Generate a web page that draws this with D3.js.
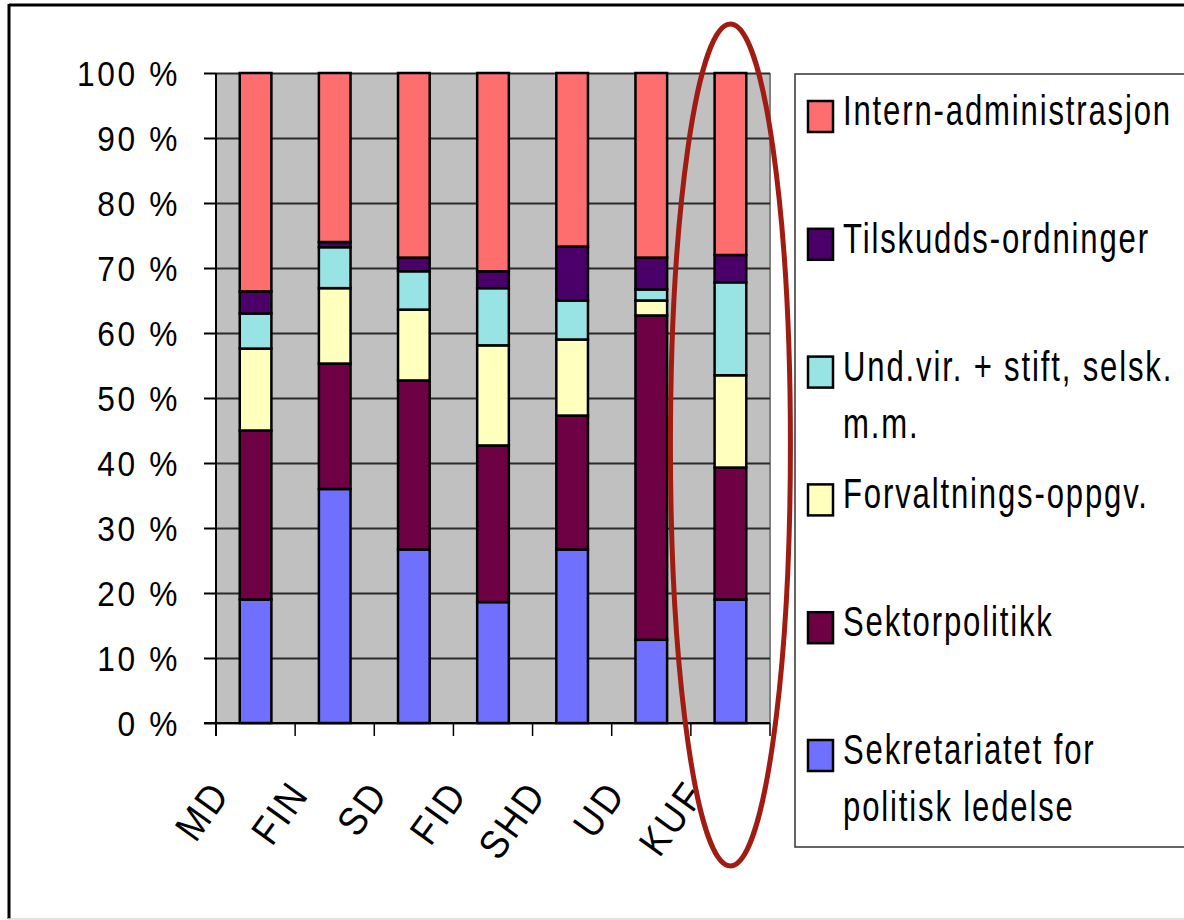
<!DOCTYPE html>
<html>
<head>
<meta charset="utf-8">
<script src="https://cdn.jsdelivr.net/npm/d3@7"></script>
<style>
  body { margin: 0; background: #fff; }
  text { font-family: "Liberation Sans", Arial, sans-serif; fill: #000; }
</style>
</head>
<body>
<div id="chart"></div>
<script>
// departments (x categories)
var categories = ["MD", "FIN", "SD", "FID", "SHD", "UD", "KUF"];

// shares in percent, bottom to top of each bar
var sekretariatet = [19, 36, 26.7, 18.6, 26.7, 12.8, 19];
var sektorpolitikk = [26, 19.3, 26, 24.1, 20.6, 49.9, 20.3];
var forvaltning = [12.6, 11.6, 10.9, 15.4, 11.7, 2.3, 14.2];
var undvir = [5.4, 6.3, 5.9, 8.8, 6.0, 1.7, 14.3];
var tilskudd = [3.4, 0.8, 2.1, 2.6, 8.3, 4.9, 4.2];
var intern = [33.6, 26, 28.4, 30.5, 26.7, 28.4, 28];

var seriesKeys = ["sekretariatet", "sektorpolitikk", "forvaltning", "undvir", "tilskudd", "intern"];
var seriesColors = ["#7070ff", "#6e0044", "#ffffbe", "#98e4e4", "#4b0069", "#ff6e6e"];

// legend, top to bottom
var legendKeys = ["intern", "tilskudd", "undvir", "forvaltning", "sektorpolitikk", "sekretariatet"];
var legendLabels = [
  ["Intern-administrasjon"],
  ["Tilskudds-ordninger"],
  ["Und.vir. + stift, selsk.", "m.m."],
  ["Forvaltnings-oppgv."],
  ["Sektorpolitikk"],
  ["Sekretariatet for", "politisk ledelse"]
];

var yTicks = [0, 10, 20, 30, 40, 50, 60, 70, 80, 90, 100];

var W = 1184, H = 920;
var margin = { top: 73, left: 216, right: 414, bottom: 196 },
  width = W - margin.left - margin.right,
  height = H - margin.top - margin.bottom - 1;

var svg = d3.select("#chart").append("svg")
  .attr("width", W)
  .attr("height", H);

// outer frame
svg.append("line").attr("x1", 9).attr("x2", 1190).attr("y1", 5).attr("y2", 5)
  .attr("stroke", "#000").attr("stroke-width", 3);
svg.append("line").attr("x1", 9).attr("x2", 9).attr("y1", 4).attr("y2", 919)
  .attr("stroke", "#000").attr("stroke-width", 3);
svg.append("line").attr("x1", 8).attr("x2", 1190).attr("y1", 919).attr("y2", 919)
  .attr("stroke", "#d8d8d8").attr("stroke-width", 1.5);

var g = svg.append("g")
  .attr("transform", "translate(" + margin.left + "," + margin.top + ")");

var xScale = d3.scaleBand().domain(categories).range([0, width]).paddingInner(0).paddingOuter(0);
var yScale = d3.scaleLinear().domain([0, 100]).range([height, 0]);

// plot background
g.append("rect")
  .attr("x", 0).attr("y", 0)
  .attr("width", width).attr("height", height)
  .attr("fill", "#c0c0c0");
g.append("line")
  .attr("x1", width).attr("x2", width).attr("y1", 0).attr("y2", height)
  .attr("stroke", "#808080").attr("stroke-width", 2);

// gridlines
var grid = g.append("g")
  .call(d3.axisLeft(yScale).tickValues(yTicks).tickSize(-width).tickFormat(""));
grid.select(".domain").remove();
grid.selectAll("line").attr("stroke", "#2a2a2a").attr("stroke-width", 2);

// stacked bars
var rows = categories.map(function(c, i) {
  return {
    cat: c,
    sekretariatet: sekretariatet[i],
    sektorpolitikk: sektorpolitikk[i],
    forvaltning: forvaltning[i],
    undvir: undvir[i],
    tilskudd: tilskudd[i],
    intern: intern[i]
  };
});
var stacked = d3.stack().keys(seriesKeys)(rows);
var bw = xScale.bandwidth();

g.selectAll(".layer")
  .data(stacked)
  .enter().append("g")
  .attr("class", "layer")
  .attr("fill", function(d, i) { return seriesColors[i]; })
  .selectAll("rect")
  .data(function(d) { return d; })
  .enter().append("rect")
  .attr("x", function(d) { return xScale(d.data.cat) + bw * 0.3; })
  .attr("width", bw * 0.4)
  .attr("y", function(d) { return yScale(d[1]); })
  .attr("height", function(d) { return yScale(d[0]) - yScale(d[1]); })
  .attr("stroke", "#000")
  .attr("stroke-width", 2.5);

// y axis
var yAxis = g.append("g")
  .call(d3.axisLeft(yScale).tickValues(yTicks).tickSize(12).tickFormat(function(d) { return d + " %"; }));
yAxis.select(".domain").remove();
yAxis.selectAll("line").attr("stroke", "#000").attr("stroke-width", 2);
yAxis.selectAll("text")
  .attr("x", 0)
  .attr("dy", "0.34em")
  .attr("transform", "translate(-36,0) scale(0.88,1)")
  .attr("text-anchor", "end")
  .style("font-size", "36px")
  .style("letter-spacing", "3px");
g.append("line")
  .attr("x1", 0).attr("x2", 0).attr("y1", 0).attr("y2", height + 13)
  .attr("stroke", "#000").attr("stroke-width", 2);

// x axis
g.append("line")
  .attr("x1", -12).attr("x2", width).attr("y1", height).attr("y2", height)
  .attr("stroke", "#000").attr("stroke-width", 2);
var bounds = categories.map(function(c) { return xScale(c); }).concat([width]);
g.selectAll(".xtick")
  .data(bounds)
  .enter().append("line")
  .attr("class", "xtick")
  .attr("x1", function(d) { return d; })
  .attr("x2", function(d) { return d; })
  .attr("y1", height)
  .attr("y2", height + 13)
  .attr("stroke", "#000")
  .attr("stroke-width", 1.5);

var xAxis = g.append("g")
  .attr("transform", "translate(0," + height + ")")
  .call(d3.axisBottom(xScale).tickSize(0));
xAxis.select(".domain").remove();
xAxis.selectAll("text")
  .attr("x", 0).attr("y", 0).attr("dy", 0)
  .attr("text-anchor", "end")
  .attr("transform", "translate(-24,71) rotate(-54) scale(0.9,1)")
  .style("font-size", "40px")
  .style("letter-spacing", "3px");

// legend
var legend = svg.append("g").attr("transform", "translate(795,74)");
legend.append("rect")
  .attr("x", 0).attr("y", 0)
  .attr("width", 420).attr("height", 773)
  .attr("fill", "#fff")
  .attr("stroke", "#333")
  .attr("stroke-width", 1.5);

var items = legend.selectAll(".item")
  .data(legendKeys)
  .enter().append("g")
  .attr("class", "item")
  .attr("transform", function(d, i) { return "translate(0," + (51 + i * 127.8) + ")"; });

items.append("rect")
  .attr("x", 13).attr("y", -24)
  .attr("width", 25).attr("height", 31)
  .attr("fill", function(d) { return seriesColors[seriesKeys.indexOf(d)]; })
  .attr("stroke", "#000")
  .attr("stroke-width", 2.5);

items.each(function(d, i) {
  var item = d3.select(this);
  legendLabels[i].forEach(function(line, j) {
    item.append("text")
      .attr("transform", "translate(48," + (j * 57) + ") scale(0.74,1)")
      .style("font-size", "42px")
      .style("letter-spacing", "2.5px")
      .text(line);
  });
});

// highlight ring around KUF
var kufX = xScale("KUF") + bw / 2;
svg.append("ellipse")
  .attr("cx", margin.left + kufX)
  .attr("cy", margin.top + yScale(50) + 47)
  .attr("rx", 60)
  .attr("ry", 421)
  .attr("fill", "none")
  .attr("stroke", "#a01c12")
  .attr("stroke-width", 5);
</script>
</body>
</html>
